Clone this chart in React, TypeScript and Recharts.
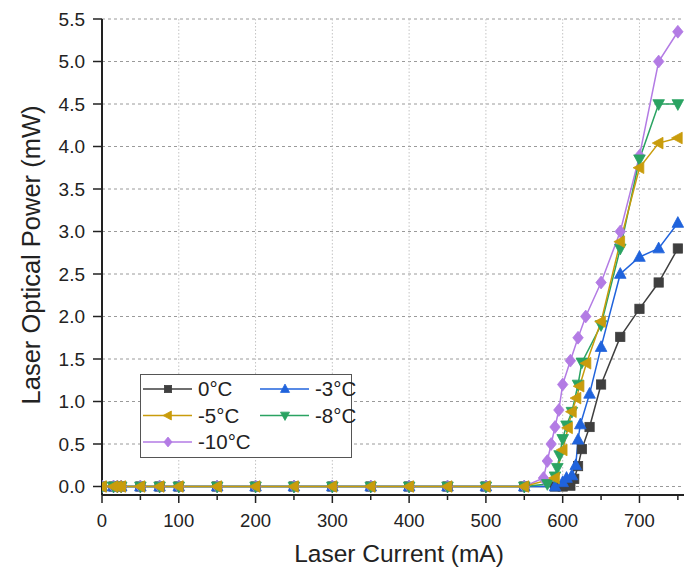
import React from "react";
import { LineChart, Line, XAxis, YAxis, CartesianGrid, Label } from "recharts";

// currents (mA) up to threshold, shared by all temperatures
const currentLow = [0, 15, 20, 25, 50, 75, 100, 150, 200, 250, 300, 350, 400, 450, 500, 550];
const powerLow = [0, 0, 0, 0, 0, 0, 0, 0, 0, 0, 0, 0, 0, 0, 0, 0];

const current0 = [...currentLow, 590, 600, 610, 615, 620, 625, 635, 650, 675, 700, 725, 750];
const power0 = [...powerLow, 0, 0, 0.01, 0.09, 0.24, 0.44, 0.7, 1.2, 1.76, 2.09, 2.4, 2.8];

const current3 = [...currentLow, 590, 600, 605, 612, 617, 620, 623, 635, 650, 675, 700, 725, 750];
const power3 = [...powerLow, 0, 0.05, 0.1, 0.13, 0.25, 0.55, 0.73, 1.09, 1.64, 2.5, 2.7, 2.8, 3.1];

const current5 = [...currentLow, 590, 600, 607, 612, 618, 622, 631, 650, 675, 700, 725, 750];
const power5 = [...powerLow, 0.1, 0.43, 0.69, 0.88, 1.04, 1.18, 1.45, 1.94, 2.88, 3.75, 4.04, 4.1];

const current8 = [...currentLow, 580, 590, 593, 596, 600, 605, 612, 620, 625, 650, 675, 700, 725, 750];
const power8 = [...powerLow, 0.03, 0.12, 0.22, 0.37, 0.56, 0.72, 0.88, 1.2, 1.46, 1.9, 2.8, 3.85, 4.5, 4.5];

const current10 = [...currentLow, 575, 580, 585, 590, 595, 600, 610, 620, 630, 650, 675, 700, 725, 750];
const power10 = [...powerLow, 0.1, 0.3, 0.5, 0.7, 0.9, 1.2, 1.48, 1.75, 2.0, 2.4, 3.0, 3.89, 5.0, 5.35];

const xTicks = [0, 50, 100, 150, 200, 250, 300, 350, 400, 450, 500, 550, 600, 650, 700, 750];
const xGrid = [100, 200, 300, 400, 500, 600, 700];
const yTicks = [0, 0.5, 1, 1.5, 2, 2.5, 3, 3.5, 4, 4.5, 5, 5.5];

const X_MAX = 758;
const FONT = "'Liberation Sans', Arial, sans-serif";

type Shape = "square" | "up" | "left" | "down" | "diamond";

const series = [
  { name: "0°C", color: "#3f3f3f", shape: "square" as Shape, current: current0, power: power0 },
  { name: "-3°C", color: "#2063dc", shape: "up" as Shape, current: current3, power: power3 },
  { name: "-10°C", color: "#b37be4", shape: "diamond" as Shape, current: current10, power: power10 },
  { name: "-8°C", color: "#2aa362", shape: "down" as Shape, current: current8, power: power8 },
  { name: "-5°C", color: "#c99c0c", shape: "left" as Shape, current: current5, power: power5 },
];

function Marker({ cx, cy, shape, color, r = 5.8 }: { cx: number; cy: number; shape: Shape; color: string; r?: number }) {
  if (cx == null || cy == null) return null;
  const p = (pts: number[][]) => pts.map((q) => `${cx + q[0]},${cy + q[1]}`).join(" ");
  let el;
  if (shape === "square") {
    el = <rect x={cx - r * 0.8} y={cy - r * 0.8} width={r * 1.6} height={r * 1.6} />;
  } else if (shape === "up") {
    el = <polygon points={p([[0, -r * 1.1], [-r, r * 0.75], [r, r * 0.75]])} />;
  } else if (shape === "down") {
    el = <polygon points={p([[0, r * 1.1], [-r, -r * 0.75], [r, -r * 0.75]])} />;
  } else if (shape === "left") {
    el = <polygon points={p([[-r * 1.1, 0], [r * 0.75, -r], [r * 0.75, r]])} />;
  } else {
    el = <polygon points={p([[0, -r * 1.1], [r * 0.9, 0], [0, r * 1.1], [-r * 0.9, 0]])} />;
  }
  return (
    <g fill={color} stroke={color} strokeWidth={0.8}>
      {el}
    </g>
  );
}

function CurrentTick(props: any) {
  const { x, y, payload } = props;
  const major = payload.value % 100 === 0;
  return (
    <g>
      <line x1={x} x2={x} y1={y} y2={y + (major ? 8 : 5)} stroke="#222" strokeWidth={1.5} />
      {major && (
        <text x={x} y={y + 32} textAnchor="middle" fontSize={18.5} fontFamily={FONT} fill="#222">
          {payload.value}
        </text>
      )}
    </g>
  );
}

function LegendBox() {
  const rows = [
    { s: series[0], col: 0, row: 0 },
    { s: series[1], col: 1, row: 0 },
    { s: series[4], col: 0, row: 1 },
    { s: series[3], col: 1, row: 1 },
    { s: series[2], col: 0, row: 2 },
  ];
  return (
    <svg
      width={212}
      height={84}
      style={{ position: "absolute", left: 140, top: 374, overflow: "visible" }}
    >
      <rect x={0.5} y={0.5} width={211} height={83} fill="#fff" stroke="#555" strokeWidth={1} />
      {rows.map(({ s, col, row }) => {
        const x0 = col === 0 ? 3 : 120;
        const y0 = 15 + row * 26.5;
        return (
          <g key={s.name}>
            <line x1={x0} x2={x0 + 49} y1={y0} y2={y0} stroke={s.color} strokeWidth={1.5} />
            <Marker cx={x0 + 25} cy={y0} shape={s.shape} color={s.color} r={4.5} />
            <text x={x0 + 55} y={y0} dy="0.36em" fontSize={20.5} fontFamily={FONT} fill="#222">
              {s.name}
            </text>
          </g>
        );
      })}
    </svg>
  );
}

export default function App() {
  return (
    <div style={{ position: "absolute", left: 0, top: 0, width: 684, height: 571, background: "#fff", overflow: "hidden" }}>
      <LineChart width={684} height={571} margin={{ top: 19, right: 0, bottom: 0, left: 0 }}>
        <CartesianGrid vertical={false} stroke="#9a9a9a" strokeDasharray="3 3" />
        <CartesianGrid
          horizontal={false}
          stroke="#c4c4c4"
          strokeDasharray="1.5 2"
          verticalCoordinatesGenerator={({ offset }: any) =>
            xGrid.map((v) => offset.left + (v / X_MAX) * offset.width)
          }
        />
        <XAxis
          type="number"
          dataKey="current"
          domain={[0, X_MAX]}
          ticks={xTicks}
          interval={0}
          height={76}
          tickSize={0}
          tickMargin={0}
          tickLine={false}
          tick={<CurrentTick />}
          axisLine={{ stroke: "#222", strokeWidth: 2 }}
          allowDataOverflow
        >
          <Label
            content={() => (
              <text x={399} y={562} textAnchor="middle" fontSize={24.5} fontFamily={FONT} fill="#222">
                Laser Current (mA)
              </text>
            )}
          />
        </XAxis>
        <XAxis
          xAxisId="top"
          orientation="top"
          type="number"
          domain={[0, X_MAX]}
          height={0}
          tick={false}
          tickLine={false}
          axisLine={{ stroke: "#333", strokeWidth: 2.5 }}
        />
        <YAxis
          type="number"
          domain={[-0.1, 5.5]}
          ticks={yTicks}
          interval={0}
          width={102}
          tickSize={9}
          tickMargin={8}
          tickFormatter={(v: number) => v.toFixed(1)}
          tick={{ fontSize: 19, fill: "#222", fontFamily: FONT }}
          tickLine={{ stroke: "#222", strokeWidth: 1.5 }}
          axisLine={{ stroke: "#222", strokeWidth: 2 }}
          allowDataOverflow
        >
          <Label
            content={(p: any) => {
              const vb = p.viewBox || { x: 0, y: 19, height: 476 };
              const cx = 31;
              const cy = vb.y + vb.height / 2 - 2;
              return (
                <text
                  x={cx}
                  y={cy}
                  textAnchor="middle"
                  dominantBaseline="central"
                  transform={`rotate(-90 ${cx} ${cy})`}
                  fontSize={25.5}
                  fontFamily={FONT}
                  fill="#222"
                >
                  Laser Optical Power (mW)
                </text>
              );
            }}
          />
        </YAxis>
        {series.map((s) => (
          <Line
            key={s.name}
            name={s.name}
            data={s.current.map((c, i) => ({ current: c, power: s.power[i] }))}
            dataKey="power"
            type="linear"
            stroke={s.color}
            strokeWidth={1.5}
            isAnimationActive={false}
            dot={(d: any) => (
              <Marker key={`${s.name}-${d.index}`} cx={d.cx} cy={d.cy} shape={s.shape} color={s.color} />
            )}
            activeDot={false}
          />
        ))}
      </LineChart>
      <LegendBox />
    </div>
  );
}
